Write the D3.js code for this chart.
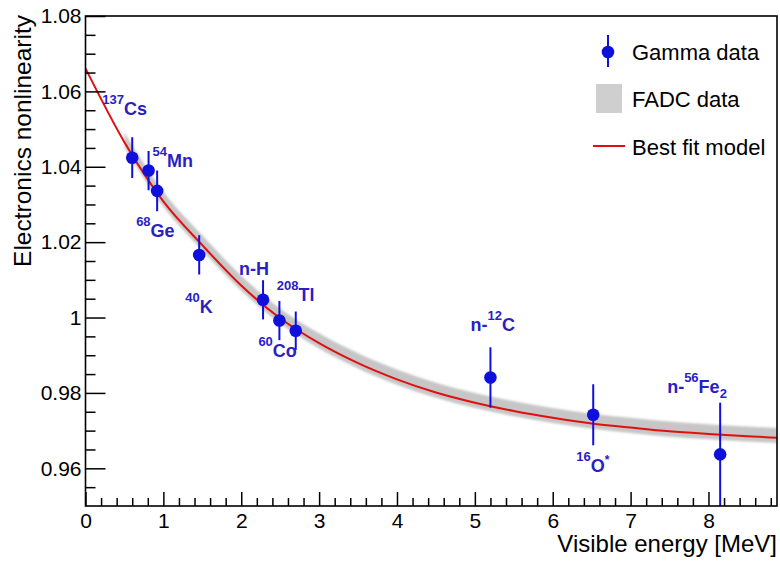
<!DOCTYPE html>
<html>
<head>
<meta charset="utf-8">
<script src="https://cdn.jsdelivr.net/npm/d3@7/dist/d3.min.js"></script>
<style>
  html, body { margin: 0; padding: 0; background: #fff; }
  svg { display: block; font-family: "Liberation Sans", Arial, Helvetica, sans-serif; }
</style>
</head>
<body>
<svg id="chart" width="780" height="561"></svg>
<script>
// Gamma calibration sources: visible energy [MeV], nonlinearity, 1-sigma error
const sources = ["137Cs", "54Mn", "68Ge", "40K", "n-H", "60Co", "208Tl", "n-12C", "16O*", "n-56Fe2"];
const energy  = [0.60, 0.81, 0.92, 1.46, 2.28, 2.49, 2.70, 5.20, 6.52, 8.15];
const nonlin  = [1.0424, 1.0390, 1.0336, 1.0166, 1.0047, 0.9992, 0.9965, 0.9841, 0.9742, 0.9637];
const errors  = [0.0054, 0.0052, 0.0054, 0.0052, 0.0052, 0.0052, 0.0051, 0.0080, 0.0081, 0.0137];

// Best fit model curve
const fitE   = [0, 0.5, 1, 1.5, 2, 2.5, 3, 3.5, 4, 4.5, 5, 5.5, 6, 6.5, 7, 7.5, 8, 8.5, 8.88];
const fitVal = [1.0661, 1.0465, 1.0308, 1.0192, 1.0085, 0.9998, 0.9932, 0.9879, 0.9836, 0.9801,
                0.9774, 0.9752, 0.9734, 0.9719, 0.9708, 0.9698, 0.9691, 0.9685, 0.9681];

// FADC data band
const bandE    = [0.5, 1, 1.5, 2, 2.5, 3, 3.5, 4, 4.5, 5, 5.5, 6, 6.5, 7, 7.5, 8, 8.5, 8.88];
const bandLow  = [1.0452, 1.0294, 1.0178, 1.0071, 0.9984, 0.9918, 0.9865, 0.9822, 0.9787,
                  0.9760, 0.9738, 0.9720, 0.9705, 0.9694, 0.9684, 0.9677, 0.9671, 0.9667];
const bandHigh = [1.0490, 1.0334, 1.0218, 1.0111, 1.0024, 0.9958, 0.9905, 0.9862, 0.9827,
                  0.9800, 0.9778, 0.9760, 0.9745, 0.9734, 0.9724, 0.9717, 0.9711, 0.9707];

// Axis ticks
const xTicks = [0, 1, 2, 3, 4, 5, 6, 7, 8];
const xTickLabels = ["0", "1", "2", "3", "4", "5", "6", "7", "8"];
const yTicks = [0.96, 0.98, 1.00, 1.02, 1.04, 1.06, 1.08];
const yTickLabels = ["0.96", "0.98", "1", "1.02", "1.04", "1.06", "1.08"];

// Label text pieces for each source: [text, role]
const labelParts = [
  [["137", "sup"], ["Cs", "main"]],
  [["54", "sup"], ["Mn", "main"]],
  [["68", "sup"], ["Ge", "main"]],
  [["40", "sup"], ["K", "main"]],
  [["n-H", "main"]],
  [["60", "sup"], ["Co", "main"]],
  [["208", "sup"], ["Tl", "main"]],
  [["n-", "main"], ["12", "sup"], ["C", "main"]],
  [["16", "sup"], ["O", "main"], ["*", "star"]],
  [["n-", "main"], ["56", "sup"], ["Fe", "main"], ["2", "sub"]]
];
// Label placement relative to its marker, in pixels
const labelOffset = [[-30, -43], [4, -4], [-21, 46], [-14, 58], [-24, -25],
                     [-21, 36], [-19, -30], [-20, -46], [-17, 57], [-53, -61]];

const svg = d3.select("#chart");
const frame = { left: 85.5, right: 777, top: 16, bottom: 506 };

const x = d3.scaleLinear().domain([0, 8.88]).range([frame.left, frame.right]);
const y = d3.scaleLinear().domain([0.95, 1.08]).range([frame.bottom, frame.top]);

const defs = svg.append("defs");
defs.append("clipPath").attr("id", "plotClip")
  .append("rect").attr("x", frame.left).attr("y", frame.top)
  .attr("width", frame.right - frame.left).attr("height", frame.bottom - frame.top);
defs.append("filter").attr("id", "soft").attr("x", "-5%").attr("y", "-20%").attr("width", "110%").attr("height", "140%")
  .append("feGaussianBlur").attr("stdDeviation", 1.2);

const plot = svg.append("g").attr("clip-path", "url(#plotClip)");

// FADC band
const bandData = bandE.map((e, i) => ({ e, lo: bandLow[i], hi: bandHigh[i] }));
plot.append("path")
  .datum(bandData)
  .attr("fill", "#c6c6c6")
  .attr("filter", "url(#soft)")
  .attr("d", d3.area().curve(d3.curveMonotoneX)
    .x(d => x(d.e)).y0(d => y(d.lo)).y1(d => y(d.hi)));

// Best fit model
const fitData = fitE.map((e, i) => ({ e, v: fitVal[i] }));
plot.append("path")
  .datum(fitData)
  .attr("fill", "none")
  .attr("stroke", "#e01010")
  .attr("stroke-width", 2)
  .attr("d", d3.line().curve(d3.curveMonotoneX).x(d => x(d.e)).y(d => y(d.v)));

// Gamma data with error bars
const pts = energy.map((e, i) => ({ e, v: nonlin[i], err: errors[i], i }));
const markerColor = "#1010dd";
plot.selectAll("line.err").data(pts).join("line")
  .attr("class", "err")
  .attr("x1", d => x(d.e)).attr("x2", d => x(d.e))
  .attr("y1", d => y(d.v - d.err)).attr("y2", d => y(d.v + d.err))
  .attr("stroke", markerColor).attr("stroke-width", 2);
plot.selectAll("circle.pt").data(pts).join("circle")
  .attr("class", "pt")
  .attr("cx", d => x(d.e)).attr("cy", d => y(d.v))
  .attr("r", 6.3).attr("fill", markerColor);

// Source labels
const labelColor = "#2a1ec4";
const roleShift = { main: 0, sup: -11, sub: 5, star: -8 };
const roleSize = { main: 18, sup: 13, sub: 13, star: 12 };
pts.forEach(d => {
  const [dx, dy] = labelOffset[d.i];
  const t = svg.append("text")
    .attr("x", x(d.e) + dx).attr("y", y(d.v) + dy)
    .attr("fill", labelColor).attr("font-weight", "bold");
  let shift = 0;
  labelParts[d.i].forEach(([txt, role]) => {
    const target = roleShift[role];
    t.append("tspan")
      .attr("dy", target - shift)
      .attr("font-size", roleSize[role])
      .text(txt);
    shift = target;
  });
});

// Frame
svg.append("rect")
  .attr("x", frame.left).attr("y", frame.top)
  .attr("width", frame.right - frame.left).attr("height", frame.bottom - frame.top)
  .attr("fill", "none").attr("stroke", "#000").attr("stroke-width", 1.6);

// X axis: major ticks every 1, minor every 0.2
const xMinor = d3.range(0, 8.881, 0.2).filter(v => Math.abs(v - Math.round(v)) > 1e-6);
const xAxis = svg.append("g").attr("transform", `translate(0,${frame.bottom})`);
xAxis.call(d3.axisBottom(x).tickValues(xMinor).tickSize(-8).tickFormat(""));
xAxis.append("g").call(d3.axisBottom(x).tickValues(xTicks).tickSize(-14)
  .tickFormat((d, i) => xTickLabels[i]).tickPadding(7));
xAxis.selectAll(".domain").remove();
xAxis.selectAll("line").attr("stroke", "#000").attr("stroke-width", 1.5);
xAxis.selectAll("text").attr("font-size", 21).attr("fill", "#000")
  .attr("font-family", "Liberation Sans, Arial, sans-serif").attr("dy", "0.71em");

// Y axis: major ticks every 0.02, minor every 0.005
const yMinor = d3.range(0.955, 1.0801, 0.005).filter(v => Math.abs(v * 50 - Math.round(v * 50)) > 1e-6);
const yAxis = svg.append("g").attr("transform", `translate(${frame.left},0)`);
yAxis.call(d3.axisLeft(y).tickValues(yMinor).tickSize(-10).tickFormat(""));
yAxis.append("g").call(d3.axisLeft(y).tickValues(yTicks).tickSize(-20)
  .tickFormat((d, i) => yTickLabels[i]));
yAxis.selectAll(".domain").remove();
yAxis.selectAll("line").attr("stroke", "#000").attr("stroke-width", 1.5);
yAxis.selectAll("text").attr("font-size", 21).attr("fill", "#000")
  .attr("font-family", "Liberation Sans, Arial, sans-serif")
  .attr("x", -4).attr("text-anchor", "end");

// Axis titles
svg.append("text")
  .attr("x", frame.right).attr("y", 552)
  .attr("text-anchor", "end").attr("font-size", 24).attr("fill", "#000")
  .text("Visible energy [MeV]");
svg.append("text")
  .attr("transform", `translate(31,${frame.top - 1}) rotate(-90)`)
  .attr("text-anchor", "end").attr("font-size", 24.5).attr("fill", "#000")
  .text("Electronics nonlinearity");

// Legend
const lg = svg.append("g");
lg.append("line").attr("x1", 608).attr("x2", 608).attr("y1", 35).attr("y2", 67)
  .attr("stroke", markerColor).attr("stroke-width", 2);
lg.append("circle").attr("cx", 608).attr("cy", 52).attr("r", 6.3).attr("fill", markerColor);
lg.append("rect").attr("x", 596).attr("y", 84).attr("width", 26).attr("height", 29).attr("fill", "#cfcfcf");
lg.append("line").attr("x1", 593).attr("x2", 625).attr("y1", 146).attr("y2", 146)
  .attr("stroke", "#e01010").attr("stroke-width", 2);
const legendText = ["Gamma data", "FADC data", "Best fit model"];
const legendY = [60, 107, 155];
legendText.forEach((t, i) => {
  lg.append("text").attr("x", 632).attr("y", legendY[i])
    .attr("font-size", 22).attr("fill", "#000").text(t);
});
</script>
</body>
</html>
